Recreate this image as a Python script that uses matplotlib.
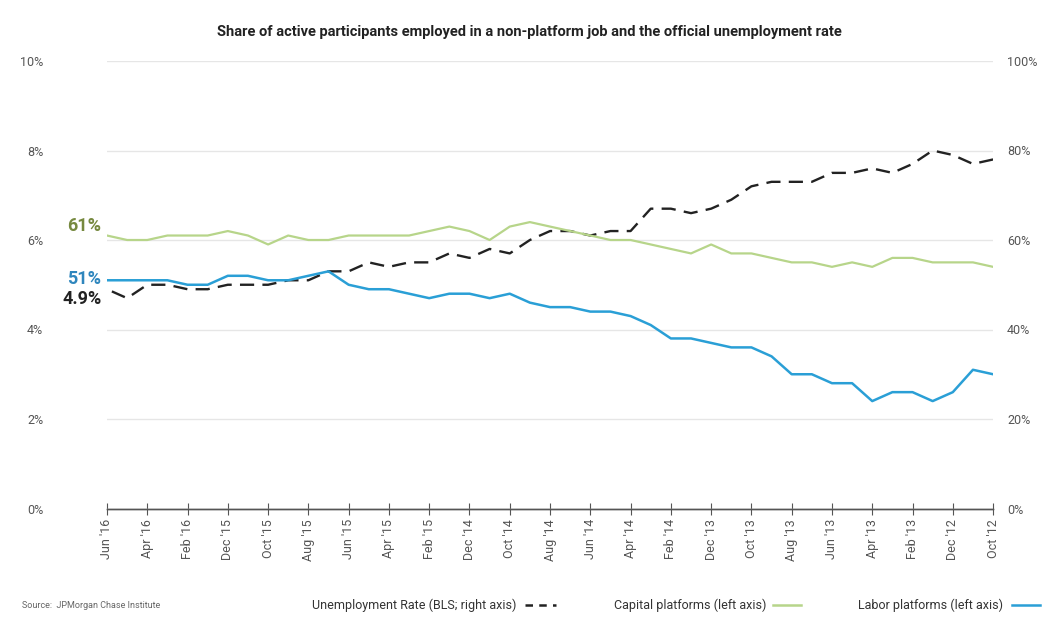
import matplotlib
matplotlib.use("Agg")
import matplotlib.pyplot as plt
from matplotlib.lines import Line2D

plt.rcParams['font.family'] = ['Roboto', 'DejaVu Sans']

# monthly data, Oct 2012 -> Jun 2016
tick_labels = ["Oct '12", "Dec '12", "Feb '13", "Apr '13", "Jun '13", "Aug '13",
               "Oct '13", "Dec '13", "Feb '14", "Apr '14", "Jun '14", "Aug '14",
               "Oct '14", "Dec '14", "Feb '15", "Apr '15", "Jun '15", "Aug '15",
               "Oct '15", "Dec '15", "Feb '16", "Apr '16", "Jun '16"]

unemployment = [7.8, 7.7, 7.9, 8.0, 7.7, 7.5, 7.6, 7.5, 7.5, 7.3, 7.3, 7.3, 7.2,
                6.9, 6.7, 6.6, 6.7, 6.7, 6.2, 6.2, 6.1, 6.2, 6.2, 6.0, 5.7, 5.8,
                5.6, 5.7, 5.5, 5.5, 5.4, 5.5, 5.3, 5.3, 5.1, 5.1, 5.0, 5.0, 5.0,
                4.9, 4.9, 5.0, 5.0, 4.7, 4.9]

capital = [54, 55, 55, 55, 56, 56, 54, 55, 54, 55, 55, 56, 57, 57, 59, 57, 58,
           59, 60, 60, 61, 62, 63, 64, 63, 60, 62, 63, 62, 61, 61, 61, 61, 60,
           60, 61, 59, 61, 62, 61, 61, 61, 60, 60, 61]

labor = [30, 31, 26, 24, 26, 26, 24, 28, 28, 30, 30, 34, 36, 36, 37, 38, 38,
         41, 43, 44, 44, 45, 45, 46, 48, 47, 48, 48, 47, 48, 49, 49, 50, 53,
         52, 51, 51, 52, 52, 50, 50, 51, 51, 51, 51]

blue = "#2a9fd6"
green = "#b7d58a"
dark = "#222222"
grey = "#555555"

x = list(range(len(labor)))

fig = plt.figure(figsize=(10.53, 6.25), dpi=100)
ax = fig.add_axes([0.1016, 0.1864, 0.8415, 0.716])
ax2 = ax.twinx()

# unemployment on the left axis (0-10%)
ax.plot(x, unemployment, color=dark, lw=1.7, ls=(0, (6, 3.5)), zorder=3)
ax.set_ylim(0, 10)
ax.set_yticks(range(0, 11, 2))
ax.set_yticklabels([f"{v}%" for v in range(0, 11, 2)])
ax.grid(axis='y', color='#e6e6e6', lw=1)
ax.set_axisbelow(True)

# platforms on the right axis (0-100%)
ax2.plot(x, capital, color=green, lw=1.6, zorder=3)
ax2.plot(x, labor, color=blue, lw=1.8, zorder=4)
ax2.set_ylim(0, 100)
ax2.set_yticks(range(0, 101, 20))
ax2.set_yticklabels([f"{v}%" for v in range(0, 101, 20)])

ax.set_xlim(len(x) - 1, 0)
ax.set_xticks(range(0, len(x), 2))
ax.set_xticklabels(tick_labels, rotation=90, va='top', ha='center')

for a in (ax, ax2):
    for s in ('top', 'left', 'right'):
        a.spines[s].set_visible(False)
    a.spines['bottom'].set_color(grey)
    a.spines['bottom'].set_linewidth(1)

ax.tick_params(axis='x', direction='inout', length=9, color=grey, width=0.8,
               labelsize=9, labelcolor=grey, pad=3)
ax.tick_params(axis='y', length=0, labelsize=9, labelcolor=grey, pad=46)
ax2.tick_params(axis='y', length=0, labelsize=9, labelcolor=grey, pad=10)
for t in ax2.get_yticklabels():
    t.set_ha('left')

# end value labels
last = len(x) - 1
ax2.annotate(f"{capital[-1]}%", (last, capital[-1]), xytext=(-4, 7),
             textcoords='offset points', ha='right', va='center',
             fontsize=13, fontweight='bold', color='#76893f')
ax2.annotate(f"{labor[-1]}%", (last, labor[-1]), xytext=(-4, 1),
             textcoords='offset points', ha='right', va='center',
             fontsize=13, fontweight='bold', color='#2f86bd')
ax.annotate(f"{unemployment[-1]}%", (last, unemployment[-1]), xytext=(-4, -7),
            textcoords='offset points', ha='right', va='center',
            fontsize=13, fontweight='bold', color=dark)

fig.text(0.503, 0.949, "Share of active participants employed in a non-platform job "
         "and the official unemployment rate", ha='center', va='center',
         fontsize=10.5, fontweight='bold', color='#222222')

# legend, drawn by hand
ly = 0.032
legend_items = [
    ("Labor platforms (left axis)", blue, '-', 1003, 1012, 1040),
    ("Capital platforms (left axis)", green, '-', 766, 773, 801),
    ("Unemployment Rate (BLS; right axis)", dark, (0, (3, 2.5)), 516, 525, 556),
]
W = 1053
for label, col, ls, tx, l0, l1 in legend_items:
    fig.add_artist(Line2D([l0 / W, l1 / W], [ly, ly], color=col, lw=1.8, ls=ls,
                          transform=fig.transFigure))
    fig.text(tx / W, ly, label, ha='right', va='center', fontsize=9, color='#333333')

fig.text(22 / W, ly, "Source:  JPMorgan Chase Institute", ha='left', va='center',
         fontsize=6.5, color='#666666')

fig.savefig("out.png", dpi=100)
